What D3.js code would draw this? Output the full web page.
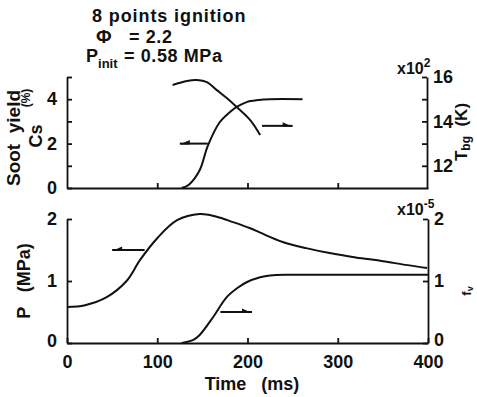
<!DOCTYPE html>
<html>
<head>
<meta charset="utf-8">
<script src="https://cdn.jsdelivr.net/npm/d3@7"></script>
<style>
  body { margin: 0; background: #fff; }
  svg text { font-family: "Liberation Sans", Arial, sans-serif; font-weight: bold; fill: #111; }
</style>
</head>
<body>
<div id="chart"></div>
<script>
// ---- data ----
const timeCs = [127, 135, 147, 156, 169, 180, 188, 199, 212, 225, 261];
const sootCs = [0, 0.15, 0.8, 1.9, 2.95, 3.4, 3.65, 3.87, 3.96, 4.0, 4.0];

const timeT = [117, 133, 144, 155, 166, 177, 188, 203, 214];
const tempBg = [1564, 1582, 1586, 1577, 1541, 1505, 1465, 1406, 1339];

const timeP = [0, 20, 44, 66, 81, 100, 122, 147, 165, 184, 203, 214, 239, 265, 291, 320, 350, 375, 399];
const pressure = [0.58, 0.61, 0.74, 1.0, 1.34, 1.69, 1.98, 2.08, 2.04, 1.95, 1.85, 1.78, 1.63, 1.53, 1.45, 1.38, 1.32, 1.26, 1.21];

const timeFv = [127, 140, 147, 162, 177, 190, 199, 214, 225, 250, 400];
const fv = [0, 0.05, 0.13, 0.42, 0.74, 0.9, 0.98, 1.06, 1.09, 1.1, 1.1]; // x1e-5

const xTicks = [0, 100, 200, 300, 400];
const csTicks = [0, 1, 2, 3, 4, 5];
const tTicks = [1200, 1300, 1400, 1500, 1600];
const pTicks = [0, 1, 2];
const fvTicks = [0, 1, 2];

// arrows: [t0, t1, value, direction, axis]
const arrowsTop = [[125, 156, 2.0, "left", "cs"], [216, 250, 1380, "right", "t"]];
const arrowsBot = [[50, 86, 1.5, "left", "p"], [170, 205, 0.5, "right", "fv"]];

const W = 477, H = 397;
const svg = d3.select("#chart").append("svg").attr("width", W).attr("height", H);

const x = d3.scaleLinear().domain([0, 400]).range([67, 428]);
const yCs = d3.scaleLinear().domain([0, 5]).range([188, 77]);
const yT = d3.scaleLinear().domain([1100, 1600]).range([188, 77]);
const yP = d3.scaleLinear().domain([0, 2]).range([343, 219]);
const yFv = d3.scaleLinear().domain([0, 2]).range([343, 219]);

function styleAxis(g) {
  g.selectAll("path, line").attr("stroke", "#111").attr("stroke-width", 1.8);
  g.selectAll("text").attr("font-size", 18).attr("fill", "#111");
}

// ---- top panel axes ----
svg.append("g").attr("transform", "translate(67,0)")
  .call(d3.axisLeft(yCs).tickValues(csTicks).tickSize(-5).tickSizeOuter(0).tickPadding(10)
    .tickFormat(d => d % 2 ? "" : String(d)))
  .call(styleAxis);

svg.append("g").attr("transform", "translate(427,0)")
  .call(d3.axisRight(yT).tickValues(tTicks).tickSize(-5).tickSizeOuter(0).tickPadding(6)
    .tickFormat(d => (d / 100) % 2 ? "" : String(d / 100)))
  .call(styleAxis);

svg.append("g").attr("transform", "translate(0,188)")
  .call(d3.axisBottom(x).tickValues([100, 200, 300]).tickSize(-5).tickSizeOuter(0).tickFormat(""))
  .call(styleAxis);

// ---- bottom panel axes ----
svg.append("g").attr("transform", "translate(67,0)")
  .call(d3.axisLeft(yP).tickValues(pTicks).tickSize(-5).tickSizeOuter(0).tickPadding(10)
    .tickFormat(d3.format("d")))
  .call(styleAxis)
  .selectAll("text").filter(d => d === 0).attr("dy", "0.2em");

svg.append("g").attr("transform", "translate(428,0)")
  .call(d3.axisRight(yFv).tickValues(fvTicks).tickSize(-5).tickSizeOuter(0).tickPadding(6)
    .tickFormat(d3.format("d")))
  .call(styleAxis)
  .selectAll("text").filter(d => d === 0).attr("dy", "0.12em");

svg.append("g").attr("transform", "translate(0,343)")
  .call(d3.axisBottom(x).tickValues(xTicks).tickSize(-5).tickSizeOuter(0).tickPadding(12)
    .tickFormat(d3.format("d")))
  .call(styleAxis);

// ---- curves ----
const line = (xs, ys, yScale) => d3.line()
  .x((d, i) => x(xs[i]))
  .y(d => yScale(d))
  .curve(d3.curveCatmullRom.alpha(0.5))(ys);

const curves = [
  [timeCs, sootCs, yCs],
  [timeT, tempBg, yT],
  [timeP, pressure, yP],
  [timeFv, fv, yFv]
];
curves.forEach(([xs, ys, sc]) => {
  svg.append("path").attr("d", line(xs, ys, sc))
    .attr("fill", "none").attr("stroke", "#111").attr("stroke-width", 2);
});

// ---- arrows (harpoon style) ----
const scales = { cs: yCs, t: yT, p: yP, fv: yFv };
arrowsTop.concat(arrowsBot).forEach(([t0, t1, v, dir, key]) => {
  const y = scales[key](v), x0 = x(t0), x1 = x(t1);
  svg.append("line").attr("x1", x0).attr("x2", x1).attr("y1", y).attr("y2", y)
    .attr("stroke", "#111").attr("stroke-width", 2);
  const tip = dir === "left" ? x0 : x1, s = dir === "left" ? 1 : -1;
  svg.append("path")
    .attr("d", `M${tip},${y + 1}L${tip + s * 10},${y - 3.5}L${tip + s * 10},${y + 1}Z`)
    .attr("fill", "#111");
});

// ---- titles and labels ----
const title = svg.append("g");
title.append("text").attr("x", 92).attr("y", 22).attr("font-size", 18)
  .attr("letter-spacing", 0.9).text("8 points ignition");
title.append("text").attr("x", 96).attr("y", 43).attr("font-size", 19).text("Φ");
title.append("text").attr("x", 129).attr("y", 43).attr("font-size", 18)
  .attr("letter-spacing", 0.6).text("= 2.2");
const pinit = title.append("text").attr("x", 86).attr("y", 62).attr("font-size", 18);
pinit.append("tspan").text("P");
pinit.append("tspan").attr("font-size", 13).attr("dy", 6).text("init");
title.append("text").attr("x", 124).attr("y", 62).attr("font-size", 18)
  .attr("letter-spacing", 0.6).text("= 0.58 MPa");

// exponent notes
const e2 = svg.append("text").attr("x", 397).attr("y", 74).attr("font-size", 16);
e2.append("tspan").text("x10");
e2.append("tspan").attr("font-size", 12).attr("dy", -7).text("2");
const e5 = svg.append("text").attr("x", 397).attr("y", 215).attr("font-size", 16);
e5.append("tspan").text("x10");
e5.append("tspan").attr("font-size", 12).attr("dy", -7).text("-5");

// left labels
svg.append("text").attr("transform", "translate(20,138) rotate(-90)")
  .attr("text-anchor", "middle").attr("font-size", 19).attr("xml:space", "preserve")
  .text("Soot  yield");
svg.append("text").attr("transform", "translate(42,136) rotate(-90)")
  .attr("text-anchor", "middle").attr("font-size", 18).text("Cs");
svg.append("text").attr("transform", "translate(30,98) rotate(-90)")
  .attr("text-anchor", "middle").attr("font-size", 12).text("(%)");
svg.append("text").attr("transform", "translate(30,281) rotate(-90)")
  .attr("text-anchor", "middle").attr("font-size", 18).attr("xml:space", "preserve")
  .text("P   (MPa)");

// right labels
const tbg = svg.append("text").attr("transform", "translate(467,132) rotate(-90)")
  .attr("text-anchor", "middle").attr("font-size", 17).attr("xml:space", "preserve");
tbg.append("tspan").text("T");
tbg.append("tspan").attr("font-size", 12).attr("dy", 3).text("bg");
tbg.append("tspan").attr("dy", -3).text("  (K)");

const fvl = svg.append("text").attr("transform", "translate(471,291) rotate(-90)")
  .attr("text-anchor", "middle").attr("font-size", 13);
fvl.append("tspan").text("f");
fvl.append("tspan").attr("font-size", 9).attr("dy", 2).text("v");

// x label
svg.append("text").attr("x", 252).attr("y", 390).attr("text-anchor", "middle")
  .attr("font-size", 18).attr("xml:space", "preserve").text("Time   (ms)");
</script>
</body>
</html>
